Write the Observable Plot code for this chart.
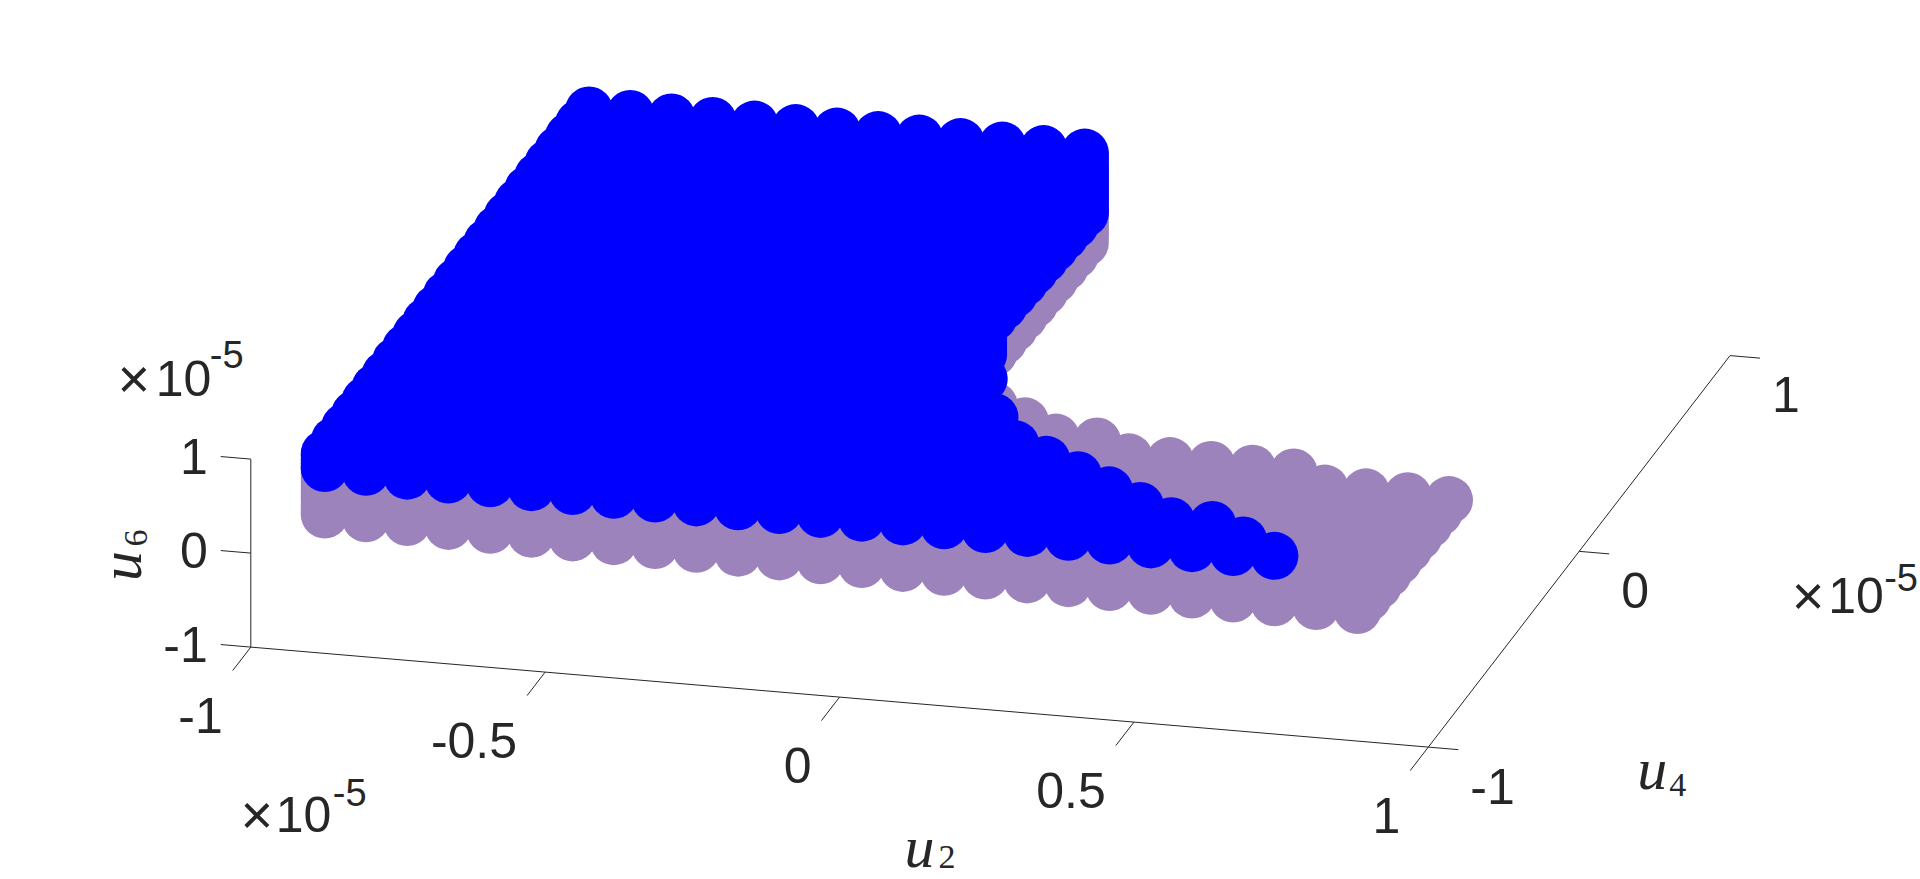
<!DOCTYPE html>
<html>
<head>
<meta charset="utf-8">
<script src="https://cdn.jsdelivr.net/npm/d3@7"></script>
<script src="https://cdn.jsdelivr.net/npm/@observablehq/plot@0.6"></script>
<style>
html,body{margin:0;padding:0;background:#fff;overflow:hidden}
svg{display:block}
</style>
</head>
<body>
<div id="chart"></div>
<script>
// Grid of sampled states (values in units of 1e-5)
const u2Values = [-0.9,-0.83,-0.76,-0.69,-0.619,-0.549,-0.479,-0.409,-0.339,-0.269,-0.198,-0.128,-0.058,0.012,0.082,0.152,0.222,0.293,0.363,0.433,0.503,0.573,0.643,0.713,0.784,0.854];
const u4Values = [-0.9,-0.833,-0.765,-0.698,-0.63,-0.563,-0.496,-0.428,-0.361,-0.293,-0.226,-0.159,-0.091,-0.024,0.044,0.111,0.178,0.246,0.313,0.381,0.448,0.515,0.583,0.65,0.718,0.785,0.852];
// Last u2 column present for each u4 row
const purpleRowEnd = [25,25,25,25,25,25,25,25,25,25,21,16,14,13,12,12,12,12,12,12,12,12,12,12,12,12,12];
const blueRowEnd = [23,22,21,19,18,17,16,15,14,14,13,13,13,12,12,12,12,12,12,12,12,12,12,12,12,12,12];
// Lower surface u6 per u4 row, and its drop per u2 column
const purpleRowU6 = [0.256,0.245,0.235,0.224,0.214,0.203,0.193,0.182,0.172,0.161,0.151,0.14,0.13,0.119,0.109,0.098,0.088,0.077,0.067,0.056,0.046,0.035,0.025,0.014,0.004,-0.007,-0.017];
const blueRowU6 = [0.75,0.733,0.715,0.698,0.681,0.663,0.646,0.629,0.612,0.594,0.577,0.56,0.542,0.525,0.508,0.49,0.2,0.456,0.438,0.421,0.404,0.387,0.369,0.352,0.335,0.317,0.3];
const columnDrop = [0,-0.003,-0.007,-0.01,-0.013,-0.017,-0.02,-0.023,-0.026,-0.03,-0.033,-0.036,-0.04,-0.043,-0.046,-0.05,-0.053,-0.056,-0.059,-0.063,-0.066,-0.069,-0.073,-0.076,-0.079,-0.083];
// Upper sheet and the filled u6 levels between sheets (first 13 columns only)
const purpleTop = 0.75;
const blueTop = 0.905;
const u6Levels = [0.88,0.84,0.8,0.76,0.72,0.68,0.64,0.6,0.56,0.52,0.48,0.44,0.4,0.36,0.32,0.28,0.24,0.2,0.16,0.12,0.08,0.04,0];
const filledColumns = 13;

const xTicks = [-1,-0.5,0,0.5,1];
const yTicks = [-1,0,1];
const zTicks = [-1,0,1];
const tickLabels = {"-1":"-1","-0.5":"-0.5","0":"0","0.5":"0.5","1":"1"};

const colors = {purple:"#9c83bc", blue:"#0000ff", ink:"#262626"};

// Orthographic view of the MATLAB box
const O = [250.3,646.6], X = [588.75,50], Y = [150.85,-195.75], Z = [0,-94];
const project = (a,b,c) => [
  O[0]+(a+1)*X[0]+(b+1)*Y[0]+(c+1)*Z[0],
  O[1]+(a+1)*X[1]+(b+1)*Y[1]+(c+1)*Z[1]
];

function cloud(rowEnd, rowU6, top){
  const pts = [];
  u4Values.forEach((u4,j)=>{
    for(let i=0;i<=rowEnd[j];i++){
      const low = rowU6[j]+columnDrop[i];
      pts.push(project(u2Values[i],u4,low));
      if(i<filledColumns){
        for(const l of u6Levels){ if(l>low && l<top) pts.push(project(u2Values[i],u4,l)); }
        pts.push(project(u2Values[i],u4,top));
      }
    }
  });
  return pts;
}
const purplePts = cloud(purpleRowEnd,purpleRowU6,purpleTop);
const bluePts = cloud(blueRowEnd,blueRowU6,blueTop);

const xTickLen = 0.12, yTickLen = 0.051, zTickLen = 0.051;
const seg = (a,b)=>({x1:a[0],y1:a[1],x2:b[0],y2:b[1]});
const segments = [
  seg(project(-1,-1,-1),project(1,-1,-1)),
  seg(project(1,-1,-1),project(1,1,-1)),
  seg(project(-1,-1,-1),project(-1,-1,1)),
  ...xTicks.map(t=>seg(project(t,-1,-1),project(t,-1-xTickLen,-1))),
  ...yTicks.map(t=>seg(project(1,t,-1),project(1+yTickLen,t,-1))),
  ...zTicks.map(t=>seg(project(-1,-1,t),project(-1-zTickLen,-1,t)))
];
const xTips = xTicks.map(t=>({p:project(t,-1-xTickLen,-1),s:tickLabels[t]}));
const yTips = yTicks.map(t=>({p:project(1+yTickLen,t,-1),s:tickLabels[t]}));
const zTips = zTicks.map(t=>({p:project(-1-zTickLen,-1,t),s:tickLabels[t]}));

const sans = "'Liberation Sans', Arial, sans-serif";
const serif = "'Liberation Serif', serif";
const txt = (data,opts)=>Plot.text(data,{x:d=>d.p[0],y:d=>d.p[1],text:d=>d.s,fill:colors.ink,fontFamily:sans,fontSize:50,...opts});
const lone = (anchor,s,opts)=>txt([{p:anchor,s}],opts);

const zTop = project(-1,-1,1), xFront = project(-1,-1,-1);
const xMid = project(0,-1,-1), yMid = project(1,0,-1);

const chart = Plot.plot({
  width:1920,height:879,margin:0,
  x:{domain:[0,1920],range:[0,1920],axis:null},
  y:{domain:[0,879],range:[0,879],axis:null},
  style:{background:"#fff"},
  marks:[
    Plot.link(segments,{x1:"x1",y1:"y1",x2:"x2",y2:"y2",stroke:colors.ink,strokeWidth:1}),
    Plot.dot(purplePts,{x:d=>d[0],y:d=>d[1],r:24,fill:colors.purple}),
    Plot.dot(bluePts,{x:d=>d[0],y:d=>d[1],r:24,fill:colors.blue}),
    txt(xTips,{textAnchor:"end",dx:-10,dy:46}),
    txt(yTips,{textAnchor:"start",dx:12,dy:38}),
    txt(zTips,{textAnchor:"end",dx:-13,dy:1}),
    // exponents
    lone(zTop,"×",{textAnchor:"middle",dx:-117,dy:-79,fontSize:56}),
    lone(zTop,"10",{textAnchor:"start",dx:-95,dy:-79}),
    lone(zTop,"-5",{textAnchor:"start",dx:-41,dy:-103,fontSize:38}),
    lone(xFront,"×",{textAnchor:"middle",dx:6,dy:169,fontSize:56}),
    lone(xFront,"10",{textAnchor:"start",dx:25,dy:169}),
    lone(xFront,"-5",{textAnchor:"start",dx:82,dy:147,fontSize:38}),
    lone(yMid,"×",{textAnchor:"middle",dx:229,dy:46,fontSize:56}),
    lone(yMid,"10",{textAnchor:"start",dx:249,dy:46}),
    lone(yMid,"-5",{textAnchor:"start",dx:305,dy:27,fontSize:38}),
    // axis titles
    lone(xMid,"u",{textAnchor:"start",dx:65,dy:151,fontFamily:serif,fontStyle:"italic",fontSize:60}),
    lone(xMid,"2",{textAnchor:"start",dx:99,dy:160,fontFamily:serif,fontSize:34}),
    lone(yMid,"u",{textAnchor:"start",dx:58,dy:218,fontFamily:serif,fontStyle:"italic",fontSize:60}),
    lone(yMid,"4",{textAnchor:"start",dx:90,dy:234,fontFamily:serif,fontSize:34}),
    lone(zTop,"u",{textAnchor:"middle",dx:-129,dy:107,rotate:-90,fontFamily:serif,fontStyle:"italic",fontSize:60}),
    lone(zTop,"6",{textAnchor:"middle",dx:-115,dy:79,rotate:-90,fontFamily:serif,fontSize:34})
  ]
});
document.getElementById("chart").appendChild(chart);
</script>
</body>
</html>
